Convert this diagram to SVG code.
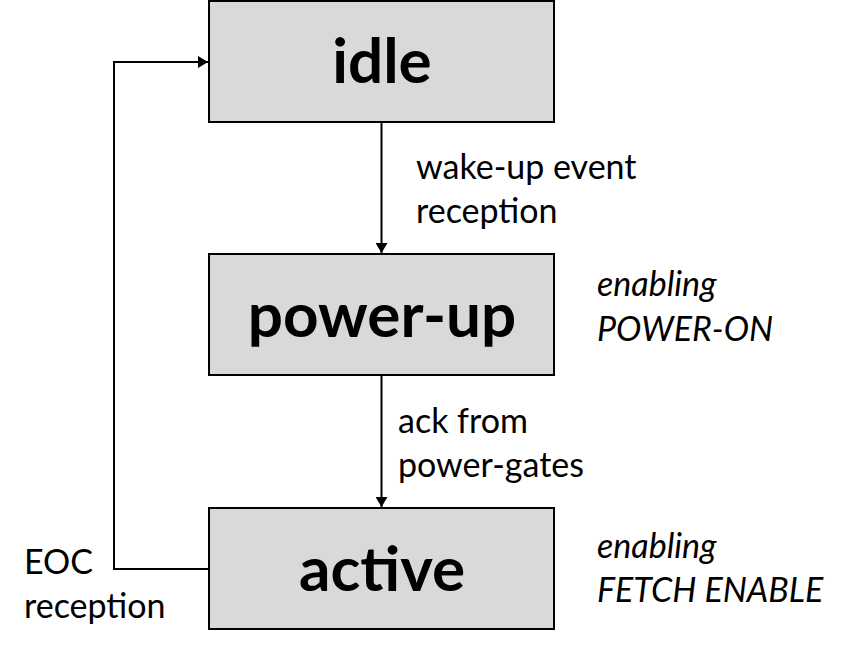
<svg xmlns="http://www.w3.org/2000/svg" width="841" height="653" viewBox="0 0 841 653">
<defs>
<marker id="arr" viewBox="0 0 10 12" refX="10" refY="6" markerWidth="10" markerHeight="12" markerUnits="userSpaceOnUse" orient="auto">
<path d="M0,0 L10,6 L0,12 z" fill="#000"/>
</marker>
<style>
.box{fill:#d9d9d9;stroke:#000;stroke-width:2}
.lbl{font-family:Lato,"Open Sans",sans-serif;font-weight:bold;font-size:62px;text-anchor:middle;fill:#000}
.t{font-family:Lato,"Open Sans",sans-serif;font-size:34px;fill:#000}
.i{font-style:italic}
.c{fill:none;stroke:#000;stroke-width:2}
</style>
</defs>
<rect width="841" height="653" fill="#fff"/>
<g id="idle">
<rect class="box" x="209" y="1" width="345" height="121"/>
<text class="lbl" x="382" y="83">idle</text>
</g>
<g id="power-up">
<rect class="box" x="209" y="254" width="345" height="121"/>
<text class="lbl" x="382" y="337">power-up</text>
</g>
<g id="active">
<rect class="box" x="209" y="508" width="345" height="121"/>
<text class="lbl" x="382" y="591">active</text>
</g>
<g id="connectors">
<line class="c" x1="381.5" y1="122" x2="381.5" y2="253" marker-end="url(#arr)"/>
<line class="c" x1="381.5" y1="375" x2="381.5" y2="507" marker-end="url(#arr)"/>
<polyline class="c" points="210,569 114,569 114,62 208,62" marker-end="url(#arr)"/>
</g>
<g id="labels">
<text class="t" x="416" y="179">wake-up event</text>
<text class="t" x="416" y="223">reception</text>
<text class="t" x="398" y="433">ack from</text>
<text class="t" x="398" y="477">power-gates</text>
<text class="t i" x="597" y="296">enabling</text>
<text class="t i" x="597" y="341">POWER-ON</text>
<text class="t i" x="597" y="558">enabling</text>
<text class="t i" x="597" y="602">FETCH ENABLE</text>
<text class="t" x="24" y="574">EOC</text>
<text class="t" x="24" y="618">reception</text>
</g>
</svg>
